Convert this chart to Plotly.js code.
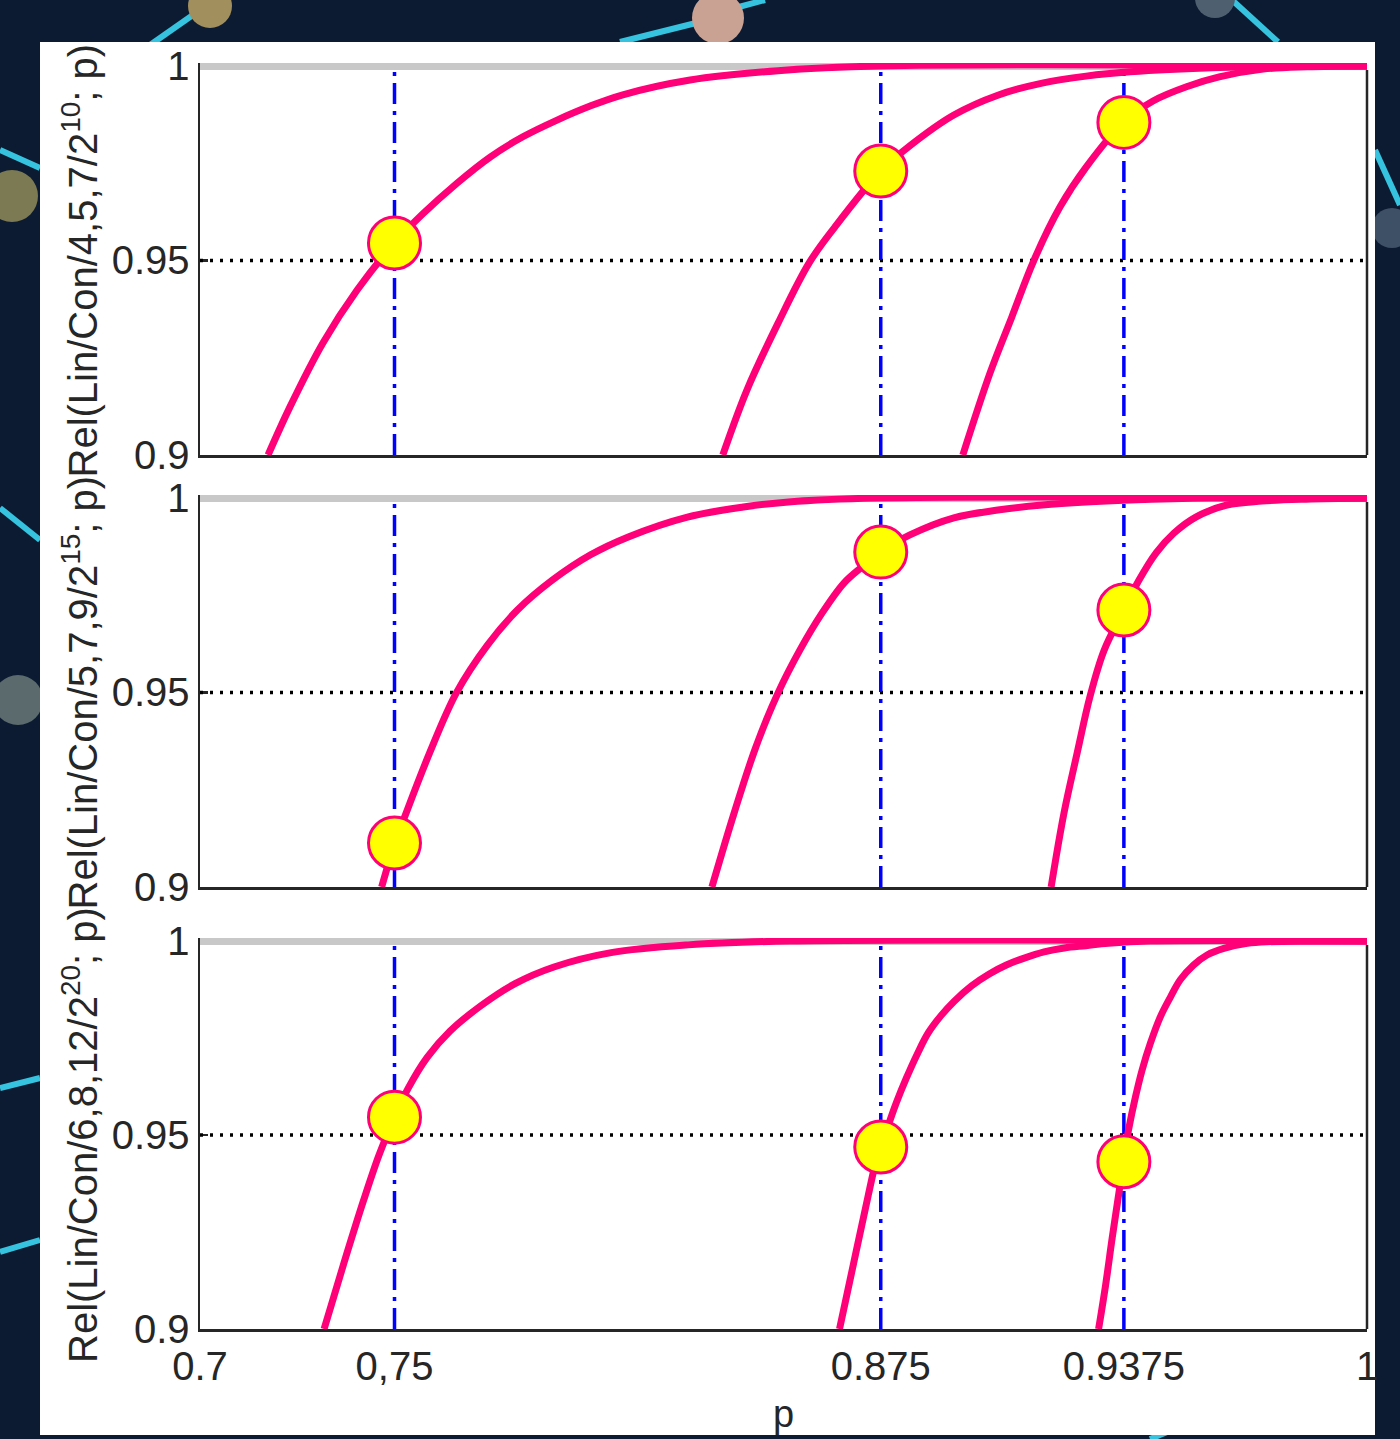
<!DOCTYPE html>
<html>
<head>
<meta charset="utf-8">
<script src="https://cdn.plot.ly/plotly-3.0.1.min.js"></script>
<style>
  html, body { margin: 0; padding: 0; background: #0c1b32; }
  #chart { width: 1400px; height: 1439px; }
</style>
</head>
<body>
<div id="chart"></div>
<script>
// ---------------- DATA ----------------
const xTickVals = [0.7, 0.75, 0.875, 0.9375, 1];
const xTickText = ['0.7', '0,75', '0.875', '0.9375', '1'];
const yTickVals = [0.9, 0.95, 1];
const yTickText = ['0.9', '0.95', '1'];
const yTitles = [
  'Rel(Lin/Con/4,5,7/2<sup>10</sup>; p)',
  'Rel(Lin/Con/5,7,9/2<sup>15</sup>; p)',
  'Rel(Lin/Con/6,8,12/2<sup>20</sup>; p)'
];
const xTitle = 'p';

// reference levels
const refP = [0.75, 0.875, 0.9375];
const refLevel = 0.95;
const topLevel = 1;

// marked points (p = 0.75, 0.875, 0.9375)
const markP = [0.75, 0.875, 0.9375];
const markR1 = [0.9545, 0.9730, 0.9855];
const markR2 = [0.9113, 0.9861, 0.9712];
const markR3 = [0.9546, 0.9469, 0.9431];

// subplot 1 : Rel(Lin/Con/4,5,7/2^10; p)
const p1a = [0.7175, 0.7231, 0.7316, 0.7404, 0.75, 0.7573, 0.7661, 0.7746, 0.7830, 0.7918, 0.8003, 0.8087, 0.8260, 0.8486, 0.8746, 1.0];
const r1a = [0.9, 0.9123, 0.9288, 0.9424, 0.9545, 0.9620, 0.9699, 0.9766, 0.9818, 0.9861, 0.9897, 0.9926, 0.9964, 0.9988, 1.0, 1.0];
const p1b = [0.8344, 0.8406, 0.8486, 0.8566, 0.8632, 0.875, 0.8825, 0.8938, 0.9051, 0.9165, 0.9278, 0.9391, 0.9620, 0.9850, 1.0];
const r1b = [0.9, 0.9167, 0.9339, 0.9494, 0.9586, 0.9730, 0.9795, 0.9874, 0.9925, 0.9956, 0.9974, 0.9985, 0.9996, 1.0, 1.0];
const p1c = [0.8961, 0.9031, 0.9087, 0.9144, 0.9211, 0.9278, 0.9375, 0.9450, 0.9540, 0.9620, 0.9733, 0.9846, 1.0];
const r1c = [0.9, 0.9211, 0.9355, 0.9501, 0.9638, 0.9740, 0.9856, 0.9910, 0.9948, 0.9972, 0.9992, 0.9998, 1.0];

// subplot 2 : Rel(Lin/Con/5,7,9/2^15; p)
const p2a = [0.7467, 0.75, 0.7526, 0.7590, 0.7659, 0.7739, 0.7816, 0.7906, 0.8004, 0.8101, 0.8253, 0.8397, 0.8513, 0.8741, 1.0];
const r2a = [0.9, 0.9110, 0.9180, 0.9344, 0.9499, 0.9622, 0.9712, 0.9789, 0.9854, 0.9900, 0.9951, 0.9977, 0.9990, 1.0, 1.0];
const p2b = [0.8316, 0.8373, 0.8429, 0.8486, 0.8542, 0.8599, 0.8656, 0.8702, 0.875, 0.8825, 0.8938, 0.9051, 0.9165, 0.9278, 0.9391, 0.9600, 1.0];
const r2b = [0.9, 0.9190, 0.9360, 0.9499, 0.9609, 0.9704, 0.9782, 0.9823, 0.9861, 0.9905, 0.9949, 0.9969, 0.9982, 0.9990, 0.9995, 1.0, 1.0];
const p2c = [0.9188, 0.9221, 0.9255, 0.9288, 0.9324, 0.9375, 0.9414, 0.9458, 0.9504, 0.9560, 0.9640, 0.9730, 0.9843, 1.0];
const r2c = [0.9, 0.9190, 0.9345, 0.9490, 0.9608, 0.9712, 0.9789, 0.9859, 0.9910, 0.9951, 0.9982, 0.9992, 0.9997, 1.0];

// subplot 3 : Rel(Lin/Con/6,8,12/2^20; p)
const p3a = [0.7319, 0.7370, 0.7420, 0.7460, 0.75, 0.7535, 0.7584, 0.7643, 0.7722, 0.7810, 0.7910, 0.8057, 0.8255, 0.8517, 1.0];
const r3a = [0.9, 0.9170, 0.9330, 0.9448, 0.9546, 0.9620, 0.9700, 0.9768, 0.9833, 0.9890, 0.9933, 0.9970, 0.9990, 1.0, 1.0];
const p3b = [0.8644, 0.8687, 0.8718, 0.8738, 0.875, 0.8767, 0.8790, 0.8816, 0.8844, 0.8872, 0.8906, 0.8939, 0.8983, 0.9029, 0.9073, 0.9119, 0.9170, 0.9222, 0.9278, 0.9335, 0.9443, 1.0];
const r3b = [0.9, 0.9201, 0.9345, 0.9433, 0.9469, 0.9518, 0.9583, 0.9647, 0.9709, 0.9763, 0.9809, 0.9845, 0.9884, 0.9915, 0.9938, 0.9956, 0.9972, 0.9982, 0.9988, 0.9994, 1.0, 1.0];
const p3c = [0.9310, 0.9328, 0.9345, 0.9364, 0.9376, 0.9387, 0.9405, 0.9422, 0.9443, 0.9469, 0.9495, 0.9520, 0.9554, 0.9589, 0.9632, 0.9692, 0.9743, 1.0];
const r3c = [0.9, 0.9113, 0.9235, 0.9363, 0.9446, 0.9513, 0.9599, 0.9668, 0.9736, 0.9805, 0.9856, 0.9900, 0.9938, 0.9964, 0.9981, 0.9994, 0.9998, 1.0];

// ---------------- STYLE ----------------
const PINK = '#ff0078';
const BLUE = '#0000ff';
const GRAY = '#c8c8c8';
const AX = '#262626';
const FONT = 'Liberation Sans, Arial, Helvetica, sans-serif';
const TICK_SIZE = 40;
const W = 1400, H = 1439;
const px = v => v / W;
const py = v => 1 - v / H;

// plot geometry (pixels): left/right of plot area, y=1 row and y=0.9 row
const L = 200, R = 1367;
const rows = [[66, 455], [498, 887], [941, 1329]];
const yTop = 1.0008;

const curves = [
  [[p1a, r1a], [p1b, r1b], [p1c, r1c]],
  [[p2a, r2a], [p2b, r2b], [p2c, r2c]],
  [[p3a, r3a], [p3b, r3b], [p3c, r3c]]
];
const marks = [markR1, markR2, markR3];

const traces = [];
const layout = {
  width: W, height: H,
  margin: {l: 0, r: 0, t: 0, b: 0},
  paper_bgcolor: '#0c1b32',
  plot_bgcolor: '#ffffff',
  showlegend: false,
  font: {family: FONT, size: 38, color: AX},
  shapes: [],
  annotations: []
};

for (let i = 0; i < 3; i++) {
  const n = i === 0 ? '' : String(i + 1);
  const xa = 'x' + n, ya = 'y' + n;
  const [rTop, rBot] = rows[i];
  const pxPerUnit = (rBot - rTop) / 0.1;
  const domTopPx = rTop - (yTop - 1) * pxPerUnit;

  // dotted 0.95 line
  traces.push({x: [0.7, 1], y: [refLevel, refLevel], xaxis: xa, yaxis: ya, mode: 'lines',
    line: {color: '#000000', width: 3.5, dash: '3px,7px'}, hoverinfo: 'skip'});
  // blue dash-dot verticals
  refP.forEach(v => traces.push({x: [v, v], y: [0.9, topLevel], xaxis: xa, yaxis: ya, mode: 'lines',
    line: {color: BLUE, width: 3.5, dash: '21px,7px,4px,7px'}, hoverinfo: 'skip'}));
  // gray line at 1
  traces.push({x: [0.7, 1], y: [topLevel, topLevel], xaxis: xa, yaxis: ya, mode: 'lines',
    line: {color: GRAY, width: 8}, hoverinfo: 'skip'});
  // curves
  curves[i].forEach(([p, r]) => traces.push({x: p, y: r, xaxis: xa, yaxis: ya, mode: 'lines',
    line: {color: PINK, width: 7, shape: 'spline', smoothing: 1}}));
  // markers
  traces.push({x: markP, y: marks[i], xaxis: xa, yaxis: ya, mode: 'markers', cliponaxis: false,
    marker: {color: '#ffff00', size: 52, line: {color: PINK, width: 3}}});

  const xax = {
    domain: [px(L), px(R)], range: [0.7, 1], anchor: ya,
    showgrid: false, zeroline: false, showline: true, linecolor: AX, linewidth: 2.5,
    ticks: 'inside', ticklen: 8, tickwidth: 2.5, tickcolor: AX,
    tickmode: 'array', tickvals: xTickVals, ticktext: xTickText,
    showticklabels: i === 2, tickfont: {family: FONT, size: TICK_SIZE, color: AX},
    layer: 'below traces'
  };
  if (i === 2) xax.title = {text: xTitle, font: {family: FONT, size: 38, color: AX}, standoff: 14};
  layout['xaxis' + n] = xax;
  layout['yaxis' + n] = {
    domain: [py(rBot), py(domTopPx)], range: [0.9, yTop], anchor: xa,
    showgrid: false, zeroline: false, showline: true, linecolor: AX, linewidth: 2.5,
    ticks: 'inside', ticklen: 8, tickwidth: 2.5, tickcolor: AX,
    tickmode: 'array', tickvals: yTickVals, ticktext: yTickText,
    tickfont: {family: FONT, size: TICK_SIZE, color: AX},
    layer: 'below traces'
  };
  // right frame side
  layout.shapes.push({type: 'line', xref: 'paper', yref: 'paper', x0: px(R), x1: px(R),
    y0: py(rBot), y1: py(rTop + 4), line: {color: AX, width: 2.5}, layer: 'above'});
  // y title
  layout.annotations.push({text: yTitles[i], xref: 'paper', yref: 'paper',
    x: px(80), y: py((rTop + rBot) / 2), xanchor: 'center', yanchor: 'middle',
    textangle: -90, showarrow: false, font: {family: FONT, size: 40, color: AX}});
}

// background decoration (network motif) drawn first, then the white panel
const decoLines = [
  [150, 45, 200, 10], [0, 150, 40, 168], [620, 42, 700, 22], [735, 8, 765, 0],
  [1232, 0, 1278, 42], [1375, 150, 1400, 205], [0, 508, 40, 540], [0, 690, 20, 700],
  [0, 1088, 40, 1078], [0, 1252, 40, 1240], [1150, 1439, 1172, 1430]
];
decoLines.forEach(([x0, y0, x1, y1]) => layout.shapes.push({type: 'line', xref: 'paper', yref: 'paper',
  x0: px(x0), y0: py(y0), x1: px(x1), y1: py(y1), line: {color: '#36c3df', width: 6}, layer: 'below'}));
const decoDots = [
  [210, 6, 22, '#a28f5e'], [718, 18, 26, '#c9a294'], [1215, -2, 20, '#4e5f70'],
  [12, 196, 26, '#7c7a52'], [18, 700, 25, '#5b6a6c'], [1392, 228, 20, '#3d5066']
];
decoDots.forEach(([cx, cy, r, c]) => layout.shapes.push({type: 'circle', xref: 'paper', yref: 'paper',
  x0: px(cx - r), x1: px(cx + r), y0: py(cy + r), y1: py(cy - r),
  fillcolor: c, line: {width: 0}, layer: 'below'}));
layout.shapes.push({type: 'rect', xref: 'paper', yref: 'paper', x0: px(40), x1: px(1375),
  y0: py(1435), y1: py(42), fillcolor: '#ffffff', line: {width: 0}, layer: 'below'});

Plotly.newPlot('chart', traces, layout, {displayModeBar: false, staticPlot: true});
</script>
</body>
</html>
